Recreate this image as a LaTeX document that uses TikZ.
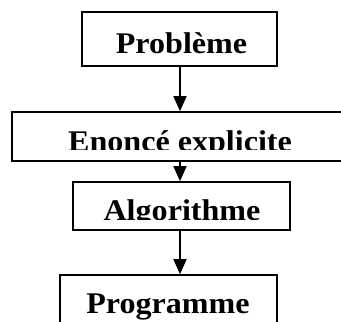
\documentclass[tikz,border=0pt]{standalone}
\usepackage{fontspec}
\setmainfont{Liberation Serif}
\usetikzlibrary{arrows.meta}
\tikzset{
  box/.style={draw, line width=1.6pt, rectangle, inner sep=0pt},
  arr/.style={line width=1.6pt, -{Triangle[width=13pt,length=15pt]}},
  lbl/.style={anchor=base, inner sep=0pt, font=\bfseries\fontsize{30}{33}\selectfont}
}
\newcommand{\wide}[1]{\scalebox{1.07}[1]{#1}}
\begin{document}
\begin{tikzpicture}[x=1pt, y=-1pt]
\useasboundingbox (0,0) rectangle (341,322);
\clip (0,0) rectangle (341,322);
\node[box, minimum width=195pt, minimum height=54pt] (p) at (179.5,39) {};
\node[box, minimum width=360pt, minimum height=49pt] (e) at (192,136.5) {};
\node[box, minimum width=217pt, minimum height=48pt] (a) at (181.5,206) {};
\node[box, minimum width=217pt, minimum height=80pt] (g) at (168.5,315) {};
\node[lbl] (pt) at (181.5,53) {\wide{Problème}};
\begin{scope}
\clip (12,113) rectangle (341,149);
\node[lbl] (et) at (180,151) {\wide{Enoncé explicite}};
\end{scope}
\begin{scope}
\clip (73,183) rectangle (290,219);
\node[lbl] (at) at (182,220) {\wide{Algorithme}};
\end{scope}
\node[lbl] (gt) at (168,313) {\wide{Programme}};
\draw[arr] (p.south -| 180,0) -- (e.north -| 180,0);
\draw[arr] (e.south -| 180,0) -- (a.north -| 180,0);
\draw[arr] (a.south -| 180,0) -- (g.north -| 180,0);
\end{tikzpicture}
\end{document}
